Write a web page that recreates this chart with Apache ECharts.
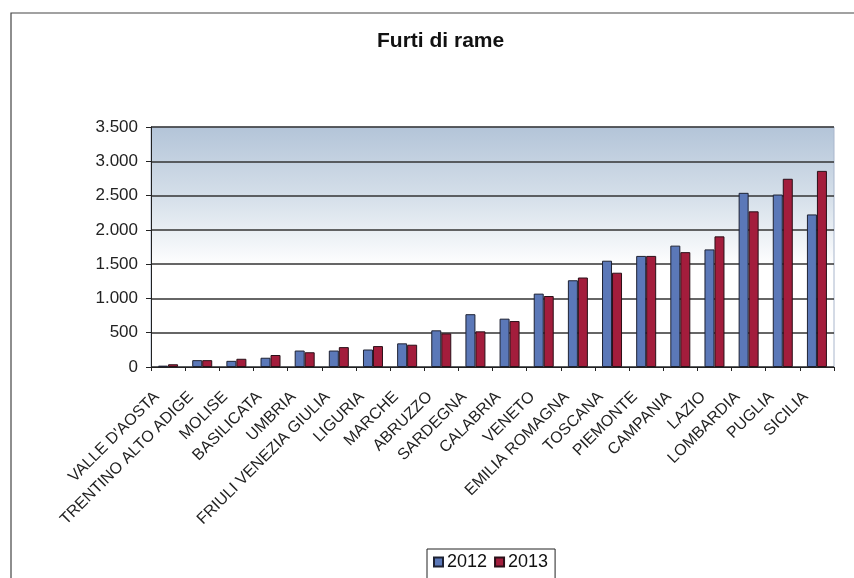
<!DOCTYPE html>
<html>
<head>
<meta charset="utf-8">
<script src="https://cdn.jsdelivr.net/npm/echarts@6/dist/echarts.min.js"></script>
<style>
  html, body { margin: 0; padding: 0; background: #fff; }
  #chart { width: 854px; height: 578px; }
</style>
</head>
<body>
<div id="chart"></div>
<script>
const regions = [
  'VALLE D\'AOSTA', 'TRENTINO ALTO ADIGE', 'MOLISE', 'BASILICATA', 'UMBRIA',
  'FRIULI VENEZIA GIULIA', 'LIGURIA', 'MARCHE', 'ABRUZZO', 'SARDEGNA',
  'CALABRIA', 'VENETO', 'EMILIA ROMAGNA', 'TOSCANA', 'PIEMONTE',
  'CAMPANIA', 'LAZIO', 'LOMBARDIA', 'PUGLIA', 'SICILIA'
]
const furti2012 = [20, 100, 90, 135, 240, 240, 255, 345, 535, 770, 705, 1070, 1265, 1550, 1620, 1770, 1715, 2540, 2515, 2225]
const furti2013 = [40, 100, 120, 175, 215, 290, 305, 325, 490, 520, 670, 1035, 1305, 1375, 1620, 1675, 1905, 2270, 2745, 2860]
const yTicks = [0, 500, 1000, 1500, 2000, 2500, 3000, 3500]

const chart = echarts.init(document.getElementById('chart'))
const font = 'Liberation Sans, Arial, sans-serif'

// formato italiano: 3.500
const fmt = (v) => v.toLocaleString('it-IT').replace(/,/g, '.')

const option = {
  backgroundColor: '#fff',
  animation: false,
  textStyle: { fontFamily: font },
  title: {
    text: 'Furti di rame',
    left: 372,
    top: 26,
    textStyle: { fontSize: 21, fontWeight: 'bold', color: '#111', fontFamily: font }
  },
  graphic: [
    // cornice esterna
    {
      type: 'rect',
      z: -1,
      shape: { x: 11, y: 13, width: 900, height: 700 },
      style: { fill: 'none', stroke: '#444', lineWidth: 1.2 }
    }
  ],
  legend: {
    left: 427,
    top: 549,
    itemWidth: 9,
    itemHeight: 9,
    itemGap: 7,
    padding: [4, 7, 8, 6],
    borderColor: '#222',
    borderWidth: 1,
    icon: 'rect',
    textStyle: { fontSize: 18, color: '#111', fontFamily: font, padding: [0, 0, 0, -1] },
    data: ['2012', '2013']
  },
  grid: {
    left: 151,
    right: 20,
    top: 127,
    bottom: 211,
    show: true,
    borderColor: '#a9b6cc',
    borderWidth: 1,
    backgroundColor: new echarts.graphic.LinearGradient(0, 0, 0, 1, [
      { offset: 0, color: '#b3c4d8' },
      { offset: 0.3, color: '#d6e0ea' },
      { offset: 0.58, color: '#ffffff' },
      { offset: 1, color: '#ffffff' }
    ])
  },
  xAxis: {
    type: 'category',
    data: regions,
    axisLine: { lineStyle: { color: '#222', width: 1 } },
    axisTick: { show: true, length: 4, lineStyle: { color: '#222' } },
    axisLabel: {
      interval: 0,
      rotate: 45,
      margin: 16,
      padding: [0, 16, 0, 0],
      fontSize: 16,
      color: '#222',
      fontFamily: font
    }
  },
  yAxis: {
    type: 'value',
    min: yTicks[0],
    max: yTicks[yTicks.length - 1],
    interval: 500,
    axisLine: { show: true, lineStyle: { color: '#222', width: 1 } },
    axisTick: { show: true, inside: false, length: 5, lineStyle: { color: '#222' } },
    splitLine: { lineStyle: { color: '#333', width: 1.5 } },
    axisLabel: {
      fontSize: 17,
      color: '#222',
      margin: 13,
      fontFamily: font,
      formatter: fmt
    }
  },
  series: [
    {
      name: '2012',
      type: 'bar',
      data: furti2012,
      barWidth: 10,
      barGap: '0%',
      itemStyle: { color: '#5b78b8', borderColor: '#1e2233', borderWidth: 1 }
    },
    {
      name: '2013',
      type: 'bar',
      data: furti2013,
      barWidth: 10,
      itemStyle: { color: '#a31d3c', borderColor: '#2a1018', borderWidth: 1 }
    }
  ]
}

chart.setOption(option)
</script>
</body>
</html>
